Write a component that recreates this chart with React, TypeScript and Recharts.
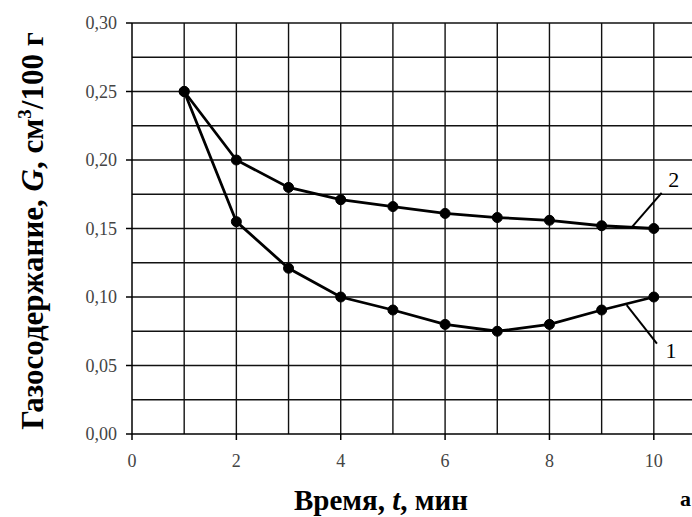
import { LineChart, Line, XAxis, YAxis, ReferenceLine, ReferenceDot, Label } from 'recharts'

const times = [1, 2, 3, 4, 5, 6, 7, 8, 9, 10]
const curve1 = [0.25, 0.155, 0.121, 0.1, 0.0905, 0.08, 0.075, 0.08, 0.0905, 0.1]
const curve2 = [0.25, 0.2, 0.18, 0.171, 0.166, 0.161, 0.158, 0.156, 0.152, 0.15]

const xTicks = [0, 2, 4, 6, 8, 10]
const yTicks = [0, 0.05, 0.1, 0.15, 0.2, 0.25, 0.3]
const xGrid = [1, 2, 3, 4, 5, 6, 7, 8, 9, 10, 11]
const yGrid = [0.025, 0.05, 0.075, 0.1, 0.125, 0.15, 0.175, 0.2, 0.225, 0.25, 0.275, 0.3]

// leader lines + curve numbers
const leader1 = [{ x: 9.48, y: 0.094 }, { x: 10.06, y: 0.066 }]
const leader2 = [{ x: 9.58, y: 0.151 }, { x: 10.15, y: 0.176 }]
const tags = [
  { name: '1', x: 10.33, y: 0.061 },
  { name: '2', x: 10.38, y: 0.186 },
]

const data = times.map((t, i) => ({ t, c1: curve1[i], c2: curve2[i] }))

const serif = '"Liberation Serif", "Times New Roman", serif'

function YTitle({ viewBox }: any) {
  const x = viewBox.x + 43
  const y = 231
  return (
    <text
      x={x}
      y={y}
      transform={`rotate(-90, ${x}, ${y})`}
      textAnchor="middle"
      fontFamily={serif}
      fontWeight="bold"
      fontSize={31}
      fill="#000"
    >
      Газосодержание, <tspan fontStyle="italic">G</tspan>, см
      <tspan fontSize={19} dy={-12}>3</tspan>
      <tspan dy={12}>/100 г</tspan>
    </text>
  )
}

function XTitle() {
  return (
    <g fontFamily={serif} fontWeight="bold" fill="#000">
      <text x={381} y={510} textAnchor="middle" fontSize={29}>
        Время, <tspan fontStyle="italic">t</tspan>, мин
      </text>
      <text x={680} y={506} fontSize={22}>
        а
      </text>
    </g>
  )
}

export default function App() {
  return (
    <div style={{ position: 'absolute', left: 0, top: 0, width: 692, height: 517, overflow: 'hidden', background: '#fff' }}>
      <LineChart width={730} height={517} data={data} margin={{ top: 23, right: 24, left: 0, bottom: 0 }}>
        {xGrid.map((v) => (
          <ReferenceLine key={'x' + v} x={v} stroke="#111" strokeWidth={1.4} />
        ))}
        {yGrid.map((v) => (
          <ReferenceLine key={'y' + v} y={v} stroke="#111" strokeWidth={1.4} />
        ))}
        <XAxis
          type="number"
          dataKey="t"
          domain={[0, 11]}
          ticks={xTicks}
          height={83}
          tickSize={6}
          tickMargin={14}
          stroke="#000"
          strokeWidth={1.5}
          tick={{ fill: '#444', fontSize: 18, fontFamily: serif }}
        >
          <Label content={<XTitle />} />
        </XAxis>
        <YAxis
          type="number"
          domain={[0, 0.3]}
          ticks={yTicks}
          width={132}
          tickSize={6}
          tickMargin={9}
          stroke="#000"
          strokeWidth={1.5}
          tickFormatter={(v) => Number(v).toFixed(2).replace('.', ',')}
          tick={{ fill: '#444', fontSize: 18, fontFamily: serif }}
        >
          <Label content={<YTitle />} />
        </YAxis>
        <Line
          type="linear"
          dataKey="c2"
          stroke="#000"
          strokeWidth={2.8}
          dot={{ r: 5, fill: '#000', stroke: '#000', strokeWidth: 1 }}
          isAnimationActive={false}
        />
        <Line
          type="linear"
          dataKey="c1"
          stroke="#000"
          strokeWidth={2.8}
          dot={{ r: 5, fill: '#000', stroke: '#000', strokeWidth: 1 }}
          isAnimationActive={false}
        />
        <ReferenceLine segment={leader1} stroke="#000" strokeWidth={2} ifOverflow="visible" />
        <ReferenceLine segment={leader2} stroke="#000" strokeWidth={2} ifOverflow="visible" />
        {tags.map((t) => (
          <ReferenceDot
            key={t.name}
            x={t.x}
            y={t.y}
            r={0}
            stroke="none"
            ifOverflow="visible"
            label={{ value: t.name, position: 'center', fill: '#000', fontSize: 22, fontFamily: serif }}
          />
        ))}
      </LineChart>
    </div>
  )
}
